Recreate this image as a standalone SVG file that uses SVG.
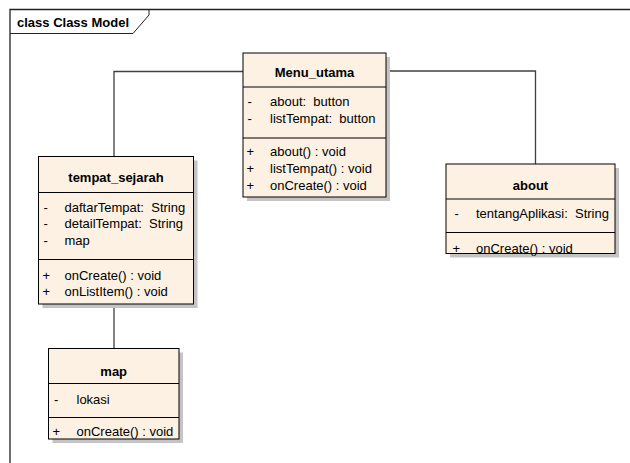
<svg xmlns="http://www.w3.org/2000/svg" width="630" height="463" viewBox="0 0 630 463" xml:space="preserve">
<style>
text{font-family:"Liberation Sans",Arial,sans-serif;font-size:13px;fill:#000;white-space:pre}
.b{font-weight:bold}
.c{text-anchor:middle}
.box{fill:#fcf1e3;stroke:#000;stroke-width:1}
.sh{fill:#c4c4c4;stroke:none}
.dv{stroke:#000;stroke-width:1}
.cn{fill:none;stroke:#404040;stroke-width:1.3}
</style>
<rect x="0" y="0" width="630" height="463" fill="#fff"/>
<g id="frame">
<path d="M10,463 V9.5 H630" fill="none" stroke="#222" stroke-width="1.3"/>
<path d="M10,33.5 H133 L149,15 V9.5" fill="none" stroke="#222" stroke-width="1"/>
<text class="b" x="17" y="27">class Class Model</text>
</g>
<g id="connectors">
<path class="cn" d="M114,156.5 V71.5 H243"/>
<path class="cn" d="M386,71 H535.5 V164"/>
<path class="cn" d="M114,304 V348.5"/>
</g>
<g id="Menu_utama">
<rect class="sh" x="247" y="57" width="143" height="144"/>
<rect class="box" x="243" y="53" width="143" height="144"/>
<line class="dv" x1="243" y1="87" x2="386" y2="87"/>
<line class="dv" x1="243" y1="138" x2="386" y2="138"/>
<text class="b c" x="314.5" y="76.5">Menu_utama</text>
<text x="247.5" y="105.5">-</text><text x="270" y="105.5">about:  button</text>
<text x="247.5" y="122.5">-</text><text x="270" y="122.5">listTempat:  button</text>
<text x="246.5" y="155.5">+</text><text x="270" y="155.5">about() : void</text>
<text x="246.5" y="172.5">+</text><text x="270" y="172.5">listTempat() : void</text>
<text x="246.5" y="189.5">+</text><text x="270" y="189.5">onCreate() : void</text>
</g>
<g id="tempat_sejarah">
<rect class="sh" x="42.5" y="160.5" width="155" height="147.5"/>
<rect class="box" x="38.5" y="156.5" width="155" height="147.5"/>
<line class="dv" x1="38.5" y1="192.5" x2="193.5" y2="192.5"/>
<line class="dv" x1="38.5" y1="259.5" x2="193.5" y2="259.5"/>
<text class="b c" x="116" y="182">tempat_sejarah</text>
<text x="43.5" y="212">-</text><text x="64.5" y="212">daftarTempat:  String</text>
<text x="43.5" y="228.3">-</text><text x="64.5" y="228.3">detailTempat:  String</text>
<text x="43.5" y="244.6">-</text><text x="64.5" y="244.6">map</text>
<text x="42.5" y="279.5">+</text><text x="64.5" y="279.5">onCreate() : void</text>
<text x="42.5" y="296">+</text><text x="64.5" y="296">onListItem() : void</text>
</g>
<g id="about">
<rect class="sh" x="450" y="168" width="169" height="89.5"/>
<rect class="box" x="446" y="164" width="169" height="89.5"/>
<line class="dv" x1="446" y1="199" x2="615" y2="199"/>
<line class="dv" x1="446" y1="232.5" x2="615" y2="232.5"/>
<text class="b c" x="530.5" y="189.5">about</text>
<text x="454.5" y="218">-</text><text x="476" y="218">tentangAplikasi:  String</text>
<text x="452.5" y="252.5">+</text><text x="476" y="252.5">onCreate() : void</text>
</g>
<g id="map">
<rect class="sh" x="52.5" y="352.5" width="130.5" height="90.5"/>
<rect class="box" x="48.5" y="348.5" width="130.5" height="90.5"/>
<line class="dv" x1="48.5" y1="383.5" x2="179" y2="383.5"/>
<line class="dv" x1="48.5" y1="417.5" x2="179" y2="417.5"/>
<text class="b c" x="113.7" y="376">map</text>
<text x="54" y="404">-</text><text x="76.5" y="404">lokasi</text>
<text x="52.5" y="435.5">+</text><text x="76.5" y="435.5">onCreate() : void</text>
</g>
</svg>
